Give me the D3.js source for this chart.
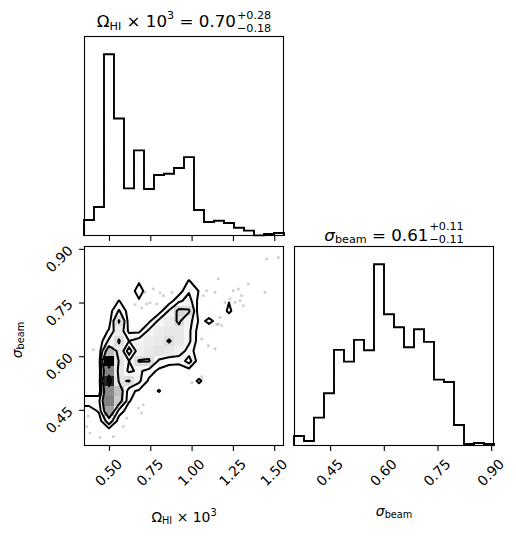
<!DOCTYPE html>
<html><head><meta charset="utf-8">
<script src="https://cdn.jsdelivr.net/npm/d3@7"></script>
<style>
body{margin:0;background:#fff}
svg{display:block}
text{font-family:"DejaVu Sans",sans-serif;fill:#000}
</style>
</head><body>
<svg id="c" width="516" height="537"></svg>
<script>
// ---------------- data ----------------
const omegaRange = [0.349, 1.559];
const sigmaRange = [0.349, 0.908];
const omegaTicks = [0.50, 0.75, 1.00, 1.25, 1.50];
const sigmaTicks = [0.45, 0.60, 0.75, 0.90];
const omegaTickLabels = ["0.50", "0.75", "1.00", "1.25", "1.50"];
const sigmaTickLabels = ["0.45", "0.60", "0.75", "0.90"];

// 1D marginal histograms (20 bins over each range)
const omegaHist = [48, 87, 546, 353, 143, 257, 141, 183, 187, 204, 237, 78, 42, 46, 39, 25, 16, 2, 6, 9];
const sigmaHist = [30, 15, 85, 158, 288, 253, 318, 287, 545, 395, 356, 296, 350, 312, 199, 192, 63, 6, 9, 6];

// 2D histogram: rows = sigma bins (low -> high), columns = omega bins (low -> high)
const density = [
  [0,1,1,0,0,0,0,0,0,0,0,0,0,0,0,0,0,0,0,0],
  [1,0.5,0.5,1,0,0,0,0,0,0,0,0,0,0,0,0,0,0,0,0],
  [1,1,10,1,1,1,0,0,0,0,0,0,0,0,0,0,0,0,0,0],
  [1,3.5,24,5,1,1,0,0,0,0,0,0,0,0,0,0,0,0,0,0],
  [5,6,28,18,3.3,1,0,0,0,0,0,0,0,0,0,0,0,0,0,0],
  [1,0,27,20,4,2.4,1,3.3,0.5,0,0,1,0,0,0,0,0,0,0,0],
  [0,0.3,37,13,14.4,8,2.1,1,0,0,1,3.6,1,0,0,0,0,0,0,0],
  [0,0.3,28,12,6,8,5,2,1.5,1,1,1,0,0,0,0,0,0,0,0],
  [0,0.3,40,13,7,14.5,14.5,6,4,4,9,0.5,0,0,0,0,0,0,0,0],
  [0,0.3,20,12,0.5,10,12,13,12,10,5,0.5,0,0,0,0,0,0,0,0],
  [0,0.3,8,14.6,7,9,11,12,14.4,12,8,0.8,1,0,0,0,0,0,0,0],
  [0,0,3.5,11,2,2,8,11,12,12,8,1,2,0,0,0,0,0,0,0],
  [0,0,1,14.6,1,1.5,2,8,11,15,9,2.4,3.4,2.4,1,0,0,0,0,0],
  [0,0,1,7.5,1,1,1,1,7.5,16,14.8,0,2,1,3.6,1,0,0,0,0],
  [0,0,0,3.2,0,2.6,1,1,1,6,9,1.5,1,1,2.9,1,1,0,0,0],
  [0,0,0,0,1,4.5,1,1,1,1,6.5,2.8,1,1,1,1,1,0,0,0],
  [0,0,0,0,0,2.6,1,1,1,1,3.2,1,1,1,1,1,1,0,0,0],
  [0,0,0,0,0,0,0,0,0,1,1,1,1,1,1,1,1,1,1,0],
  [0,0,0,0,0,0,0,0,0,0,0,0,0,0,0,0,1,0,1,1],
  [0,0,0,0,0,0,0,0,0,0,0,0,0,0,0,0,0,0,1,1]
];
const contourLevels = [3, 7, 14, 32];

// individual samples visible outside the contours: Omega_HI x 1e3 and sigma_beam
const sampleOmega = [1.454,1.525,1.162,1.343,1.283,1.252,1.444,1.303,1.293,1.313,1.263,1.232,1.202,1.091,1.071,1.142,1.172,1.162,1.182,1.101,1.142,1.061,1.010,1.061,1.001,0.880,0.829,0.768,0.728,0.718,0.789,0.405,0.385,0.446,0.526,0.365,0.375,0.627,0.678,0.708,0.698,0.607,0.587,1.152,0.698,0.809,0.748,0.658,1.061];
const sampleSigma = [0.872,0.876,0.816,0.802,0.788,0.783,0.778,0.769,0.755,0.741,0.750,0.760,0.750,0.783,0.769,0.778,0.708,0.690,0.685,0.629,0.620,0.648,0.601,0.536,0.526,0.778,0.769,0.788,0.746,0.778,0.746,0.618,0.385,0.373,0.375,0.403,0.433,0.501,0.455,0.464,0.441,0.427,0.403,0.688,0.735,0.777,0.749,0.744,0.543];

const titleOmega = {median: "0.70", plus: "+0.28", minus: "\u22120.18"};
const titleSigma = {median: "0.61", plus: "+0.11", minus: "\u22120.11"};

// ---------------- layout ----------------
const svg = d3.select("#c");
const S = 200;
const L = 84, T1 = 36, T2 = 246, L2 = 294;
const FS = 13.9, TFS = 16.7;

const xO = d3.scaleLinear().domain(omegaRange).range([L, L + S]);
const xS = d3.scaleLinear().domain(sigmaRange).range([L2, L2 + S]);
const yS = d3.scaleLinear().domain(sigmaRange).range([T2 + S, T2]);
const yH1 = d3.scaleLinear().domain([0, 1.1 * d3.max(omegaHist)]).range([T1 + S, T1]);
const yH2 = d3.scaleLinear().domain([0, 1.1 * d3.max(sigmaHist)]).range([T2 + S, T2]);

const edges = (r) => d3.range(21).map(k => r[0] + k * (r[1] - r[0]) / 20);
const eO = edges(omegaRange), eS = edges(sigmaRange);

function stepPts(e, h) {
  const pts = [[e[0], 0]];
  h.forEach((v, k) => { pts.push([e[k], v]); pts.push([e[k + 1], v]); });
  pts.push([e[20], 0]);
  return pts;
}

// ---- top histogram ----
svg.append("path")
  .attr("d", d3.line().x(d => xO(d[0])).y(d => yH1(d[1]))(stepPts(eO, omegaHist)))
  .attr("fill", "none").attr("stroke", "#000").attr("stroke-width", 1.9).attr("stroke-linejoin", "miter");

// ---- right histogram ----
svg.append("path")
  .attr("d", d3.line().x(d => xS(d[0])).y(d => yH2(d[1]))(stepPts(eS, sigmaHist)))
  .attr("fill", "none").attr("stroke", "#000").attr("stroke-width", 1.9).attr("stroke-linejoin", "miter");

// ---- 2D panel ----
svg.append("clipPath").attr("id", "clip2d").append("rect")
  .attr("x", L).attr("y", T2).attr("width", S).attr("height", S);
const g2 = svg.append("g").attr("clip-path", "url(#clip2d)");

// points (behind everything)
g2.append("g").selectAll("circle").data(sampleOmega.map((o, k) => [o, sampleSigma[k]])).join("circle")
  .attr("cx", d => xO(d[0])).attr("cy", d => yS(d[1])).attr("r", 1.45)
  .attr("fill", "#000").attr("fill-opacity", 0.2);

// contours
const NP = 24;
const hmin = d3.min(density.flat());
const padded = new Array(NP * NP).fill(hmin);
for (let pj = 1; pj < NP - 1; pj++) for (let pi = 1; pi < NP - 1; pi++) {
  const j = Math.min(Math.max(pj - 2, 0), 19), i = Math.min(Math.max(pi - 2, 0), 19);
  padded[pj * NP + pi] = density[j][i];
}
const bwO = (omegaRange[1] - omegaRange[0]) / 20, bwS = (sigmaRange[1] - sigmaRange[0]) / 20;
const proj = d3.geoTransform({
  point(x, y) { this.stream.point(xO(omegaRange[0] + (x - 2) * bwO), yS(sigmaRange[0] + (y - 2) * bwS)); }
});
const gp = d3.geoPath(proj);
const conts = d3.contours().size([NP, NP]).thresholds(contourLevels)(padded);

// white base fill inside the lowest contour
g2.append("path").attr("d", gp(conts[0])).attr("fill", "#fff").attr("fill-rule", "evenodd").attr("stroke", "none");

// density map
const hmax = d3.max(density.flat());
const cells = [];
density.forEach((row, j) => row.forEach((v, i) => { if (v > 0) cells.push({i, j, v}); }));
g2.append("g").attr("shape-rendering", "crispEdges").selectAll("rect").data(cells).join("rect")
  .attr("x", d => xO(eO[d.i])).attr("y", d => yS(eS[d.j + 1]))
  .attr("width", d => xO(eO[d.i + 1]) - xO(eO[d.i]))
  .attr("height", d => yS(eS[d.j]) - yS(eS[d.j + 1]))
  .attr("fill", d => { const t = (hmax - d.v) / hmax; const c = Math.round(255 * t); return `rgb(${c},${c},${c})`; })
  .attr("fill-opacity", d => d.v / hmax);

// contour lines
g2.append("g").selectAll("path").data(conts).join("path")
  .attr("d", d => gp(d)).attr("fill", "none").attr("stroke", "#000")
  .attr("stroke-width", 2).attr("stroke-linejoin", "round");

// ---- frames ----
[[L, T1], [L, T2], [L2, T2]].forEach(([x, y]) => {
  svg.append("rect").attr("x", x + 0.5).attr("y", y + 0.5).attr("width", S - 1).attr("height", S - 1)
    .attr("fill", "none").attr("stroke", "#000").attr("stroke-width", 1.1);
});

// ---- axes ----
function styleAxis(g, labelTransform) {
  g.select(".domain").remove();
  g.selectAll(".tick line").attr("stroke", "#000").attr("stroke-width", 1.1);
  g.selectAll(".tick text")
    .attr("x", null).attr("y", null).attr("dy", null)
    .attr("text-anchor", "middle").attr("dominant-baseline", "central")
    .attr("font-size", FS).attr("font-family", "DejaVu Sans")
    .attr("transform", labelTransform);
  g.attr("font-family", null).attr("font-size", null);
}
const axTop = svg.append("g").attr("transform", `translate(0,${T1 + S})`)
  .call(d3.axisBottom(xO).tickValues(omegaTicks).tickSize(4.9).tickFormat(""));
styleAxis(axTop, null);
const ax2x = svg.append("g").attr("transform", `translate(0,${T2 + S})`)
  .call(d3.axisBottom(xO).tickValues(omegaTicks).tickSize(4.9).tickFormat((d, k) => omegaTickLabels[k]));
styleAxis(ax2x, "translate(-1,26.5) rotate(-45)");
const ax2y = svg.append("g").attr("transform", `translate(${L},0)`)
  .call(d3.axisLeft(yS).tickValues(sigmaTicks).tickSize(4.9).tickFormat((d, k) => sigmaTickLabels[k]));
styleAxis(ax2y, "translate(-24.8,9.5) rotate(-45)");
const ax3x = svg.append("g").attr("transform", `translate(0,${T2 + S})`)
  .call(d3.axisBottom(xS).tickValues(sigmaTicks).tickSize(4.9).tickFormat((d, k) => sigmaTickLabels[k]));
styleAxis(ax3x, "translate(-1,26.5) rotate(-45)");

// ---- rich text helper ----
function richText(parent, parts, fs) {
  const t = parent.append("text").attr("x", 0).attr("y", 0).attr("font-size", fs);
  parts.forEach(p => {
    t.append("tspan").text(p.t).attr("y", p.dy || 0)
      .attr("font-size", p.size || fs).attr("font-style", p.italic ? "italic" : null);
  });
  return t;
}
const sfsT = 11.2;
function titleWithErr(cx, baseline, parts, v, supDy, subDy) {
  const g = svg.append("g");
  const main = richText(g, parts.concat([{t: " = " + v.median}]), TFS);
  const w = main.node().getComputedTextLength();
  const sup = g.append("text").attr("x", w + 1).attr("y", supDy).attr("font-size", sfsT).text(v.plus);
  const sub = g.append("text").attr("x", w + 1).attr("y", subDy).attr("font-size", sfsT).text(v.minus);
  const tot = w + 1 + Math.max(sup.node().getComputedTextLength(), sub.node().getComputedTextLength());
  g.attr("transform", `translate(${cx - tot / 2},${baseline})`);
}
titleWithErr(L + S / 2, 27, [
  {t: "\u03A9"}, {t: "HI", size: sfsT, dy: 2.5}, {t: " \u00D7 10", dy: 0}, {t: "3", size: sfsT, dy: -7.6}
], titleOmega, -8, 5.2);
titleWithErr(L2 + S / 2, 240.5, [
  {t: "\u03C3", italic: true}, {t: "beam", size: sfsT, dy: 2.5}
], titleSigma, -10.6, 2.5);

// axis labels
function centeredLabel(cx, baseline, parts, rotate) {
  const g = svg.append("g");
  const t = richText(g, parts, FS);
  const w = t.node().getComputedTextLength();
  t.selectAll("tspan").filter((d, k) => k === 0).attr("x", -w / 2);
  g.attr("transform", `translate(${cx},${baseline})` + (rotate ? ` rotate(${rotate})` : ""));
}
const sfsL = FS * 0.7;
centeredLabel(L + S / 2, 522, [
  {t: "\u03A9"}, {t: "HI", size: sfsL, dy: 2.2}, {t: " \u00D7 10", dy: 0}, {t: "3", size: sfsL, dy: -6}
]);
centeredLabel(L2 + S / 2, 516, [
  {t: "\u03C3", italic: true}, {t: "beam", size: sfsL, dy: 2.2}
]);
centeredLabel(22, 340, [
  {t: "\u03C3", italic: true}, {t: "beam", size: sfsL, dy: 2.2}
], -90);
</script>
</body></html>
